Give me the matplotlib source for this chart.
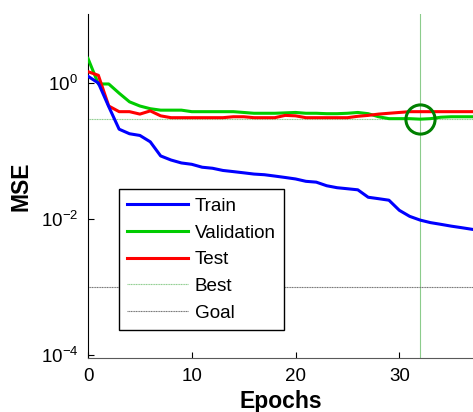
import matplotlib
matplotlib.use("Agg")
import matplotlib.pyplot as plt
import numpy as np

plt.rcParams['font.family'] = ['Liberation Sans', 'DejaVu Sans']
plt.rcParams['mathtext.fontset'] = 'custom'
plt.rcParams['mathtext.rm'] = 'Liberation Sans'
plt.rcParams['mathtext.it'] = 'Liberation Sans'

epochs = list(range(38))
train = [1.26, 1.0, 0.45, 0.21, 0.18, 0.17, 0.137, 0.085, 0.074, 0.067, 0.064, 0.058,
         0.056, 0.052, 0.050, 0.048, 0.046, 0.045, 0.043, 0.041, 0.039, 0.036, 0.035,
         0.031, 0.029, 0.028, 0.027, 0.021, 0.020, 0.019, 0.0135, 0.011, 0.0097,
         0.0089, 0.0084, 0.0079, 0.0075, 0.0071]
validation = [2.3, 0.97, 0.97, 0.71, 0.53, 0.46, 0.42, 0.40, 0.40, 0.40, 0.38, 0.38,
              0.38, 0.38, 0.38, 0.37, 0.36, 0.36, 0.36, 0.365, 0.37, 0.36, 0.36,
              0.355, 0.355, 0.36, 0.37, 0.355, 0.32, 0.30, 0.30, 0.30, 0.295,
              0.30, 0.315, 0.32, 0.32, 0.32]
test = [1.47, 1.3, 0.46, 0.38, 0.38, 0.35, 0.39, 0.33, 0.31, 0.31, 0.31, 0.31,
        0.31, 0.31, 0.32, 0.32, 0.31, 0.31, 0.31, 0.335, 0.33, 0.31, 0.31,
        0.31, 0.31, 0.31, 0.325, 0.335, 0.35, 0.36, 0.37, 0.38, 0.38,
        0.38, 0.38, 0.38, 0.38, 0.38]
best_epoch = 32
best_value = validation[best_epoch]
goal = 1e-3

fig = plt.figure(figsize=(4.73, 4.12), dpi=100)
ax = fig.add_axes([88/473, 54/412, (473-88)/473, 344/412])

ax.plot(epochs, train, color=(0, 0, 1), lw=2.2, label='Train', zorder=5)
ax.plot(epochs, validation, color=(0, 0.8, 0), lw=2.2, label='Validation', zorder=4)
ax.plot(epochs, test, color=(1, 0, 0), lw=2.2, label='Test', zorder=4)
ax.axhline(best_value, color=(0.55, 0.8, 0.55), lw=0.8, ls=(0, (1, 0.5)), label='Best', zorder=2)
ax.axvline(best_epoch, color=(0.55, 0.8, 0.55), lw=0.8, zorder=2)
ax.axhline(goal, color=(0.45, 0.45, 0.45), lw=0.8, ls=(0, (1, 0.5)), label='Goal', zorder=2)
ax.plot([best_epoch], [best_value], 'o', ms=21, mfc='none', mec=(0, 0.5, 0), mew=2.2, zorder=6)

ax.set_yscale('log')
ax.set_xlim(0, 37.1)
ax.set_ylim(10**-4.04, 10**1.015)
ax.set_xticks([0, 10, 20, 30])
ax.set_yticks([1e-4, 1e-2, 1])
ax.set_yticklabels([r'$10^{-4}$', r'$10^{-2}$', r'$10^{0}$'])
ax.yaxis.set_minor_locator(matplotlib.ticker.NullLocator())
ax.tick_params(direction='in', length=4, width=0.8, labelsize=13.5, colors='black', pad=7)
ax.spines['top'].set_visible(False)
ax.spines['right'].set_visible(False)
ax.spines['left'].set_color('black')
ax.spines['bottom'].set_color((0.35, 0.35, 0.35))

ax.set_xlabel('Epochs', fontsize=16.5, fontweight='bold', labelpad=4)
ax.set_ylabel('MSE', fontsize=16.5, fontweight='bold', labelpad=6)

leg = ax.legend(loc='lower left', bbox_to_anchor=(0.0805, 0.081), borderaxespad=0,
                fontsize=13.6, handlelength=3.2, handletextpad=0.35, labelspacing=0.5,
                borderpad=0.45, fancybox=False, framealpha=1, edgecolor='black')
leg.get_frame().set_linewidth(1.0)

fig.savefig('out.png', dpi=100)
